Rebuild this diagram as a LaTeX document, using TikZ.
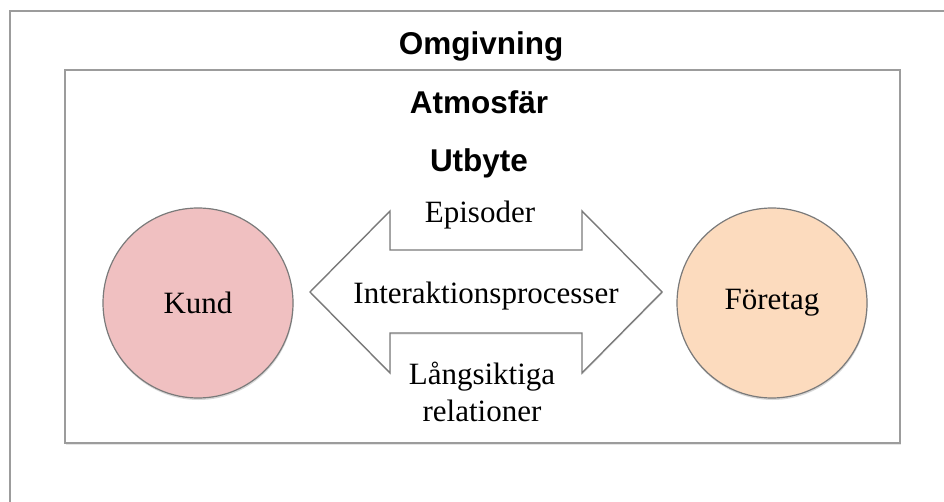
\documentclass[tikz,border=0pt]{standalone}
\usepackage{fontspec}
\setmainfont{Liberation Serif}
\setsansfont{Liberation Sans}
\usetikzlibrary{shadows}

\definecolor{framegray}{HTML}{9C9C9C}
\definecolor{rimgray}{HTML}{7A7A7A}
\definecolor{kundfill}{HTML}{F0C0C1}
\definecolor{foretagfill}{HTML}{FCDBBE}

\begin{document}
\begin{tikzpicture}[
  x=1pt, y=-1pt,
  frame/.style={draw=framegray, line width=2.4pt, fill=white,
    drop shadow={shadow xshift=1pt, shadow yshift=-1.5pt, opacity=0.2}},
  ttl/.style={font=\fontsize{31.5}{36}\selectfont\sffamily\bfseries, anchor=base, inner sep=0pt},
  lbl/.style={font=\fontsize{31}{37}\selectfont, inner sep=0pt},
  party/.style={circle, draw=rimgray, line width=1.2pt, minimum size=190pt, inner sep=0pt,
    font=\fontsize{31}{37}\selectfont,
    drop shadow={shadow xshift=0.5pt, shadow yshift=-2pt, opacity=0.3}},
  flow/.style={draw=rimgray, line width=1.4pt, fill=white, line join=miter,
    drop shadow={shadow xshift=0.5pt, shadow yshift=-1.5pt, opacity=0.2}}
]
\useasboundingbox (0,0) rectangle (944,502);
\clip (0,0) rectangle (944,502);

% environment and atmosphere frames
\path[frame] (10,11) rectangle (980,540);
\path[frame] (65,70) rectangle (900,443);

\node[ttl] (omg) at (481,55) {Omgivning};
\node[ttl] (atm) at (479,114) {Atmosfär};
\node[ttl] (utb) at (479,172) {Utbyte};

% the two parties
\node[party, fill=kundfill] (kund) at (198,303) {Kund};
\node[party, fill=foretagfill] (ftg) at (772,303) {Företag};

% double arrow between them
\path[flow] (310,292) -- (390,211) -- (390,250) -- (582,250) -- (582,211)
  -- (662,292) -- (582,373) -- (582,333) -- (390,333) -- (390,373) -- cycle;

\node[lbl, anchor=base] (epi) at (480,223) {Episoder};
\node[lbl, anchor=base] (inter) at (486,304) {Interaktionsprocesser};
\node[lbl, anchor=base, align=center] (lang) at (482,421) {Långsiktiga\\relationer};
\end{tikzpicture}
\end{document}
